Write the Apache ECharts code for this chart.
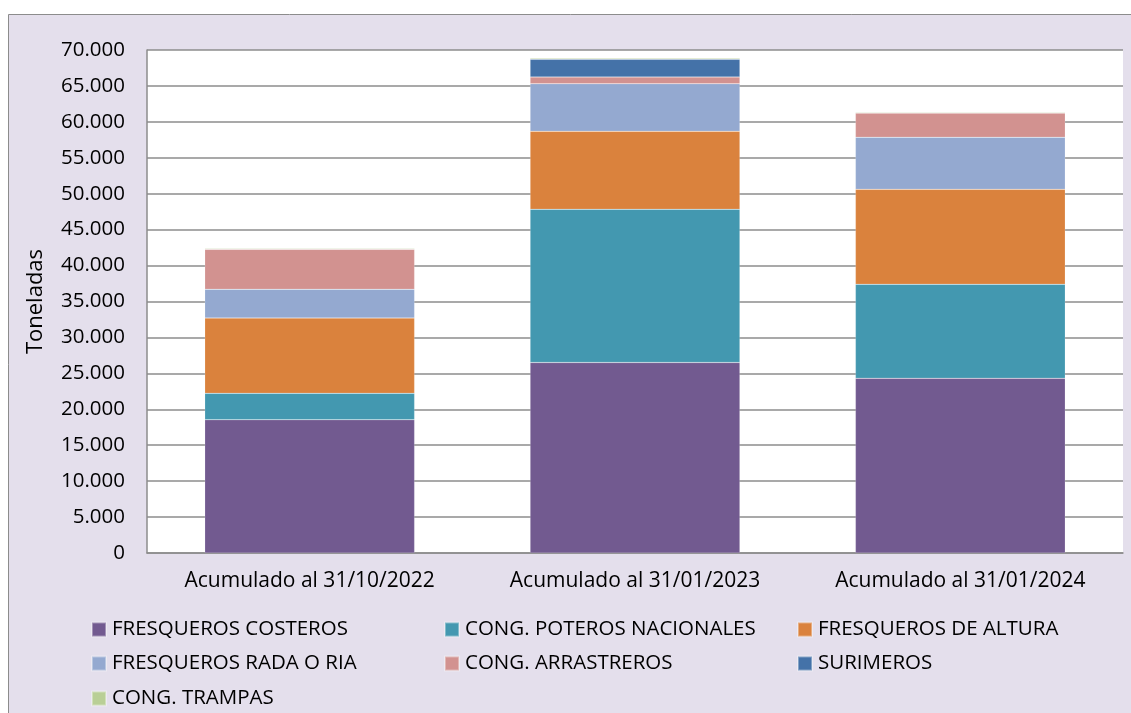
<!DOCTYPE html>
<html><head><meta charset="utf-8">
<script src="https://cdn.jsdelivr.net/npm/echarts@6/dist/echarts.min.js"></script>
<style>html,body{margin:0;padding:0;background:#fff}#c{width:1131px;height:713px}</style>
</head><body><div id="c"></div>
<script>
const categories = ['Acumulado al 31/10/2022','Acumulado al 31/01/2023','Acumulado al 31/01/2024'];
const fresquerosCosteros = [18550, 26510, 24310];
const congPoterosNacionales = [3670, 21320, 13080];
const fresquerosDeAltura = [10480, 10850, 13220];
const fresquerosRadaORia = [4000, 6630, 7240];
const congArrastreros = [5560, 930, 3380];
const surimeros = [0, 2460, 0];
const congTrampas = [120, 140, 100];
const yTicks = [0,5000,10000,15000,20000,25000,30000,35000,40000,45000,50000,55000,60000,65000,70000];

const seriesDefs = [
  ['FRESQUEROS COSTEROS', fresquerosCosteros, '#725A90'],
  ['CONG. POTEROS NACIONALES', congPoterosNacionales, '#4398B0'],
  ['FRESQUEROS DE ALTURA', fresquerosDeAltura, '#DA823D'],
  ['FRESQUEROS RADA O RIA', fresquerosRadaORia, '#94A9D0'],
  ['CONG. ARRASTREROS', congArrastreros, '#D29290'],
  ['SURIMEROS', surimeros, '#4472A8'],
  ['CONG. TRAMPAS', congTrampas, '#B9CF96']
];
// legend placement (column x, row y) for each series, in order
const legendPos = [[91,619],[444,619],[797,619],[91,653],[444,653],[797,653],[91,688]];
const FONT = '"Open Sans", sans-serif';
const chart = echarts.init(document.getElementById('c'), null, {renderer:'canvas'});
function fmt(v){ return v === 0 ? '0' : (v/1000).toFixed(0) + '.000'; }
const legends = seriesDefs.map(function(d, i){
  return {orient:'horizontal', itemWidth:14, itemHeight:14, itemGap:0, icon:'rect',
    left:legendPos[i][0], top:legendPos[i][1], padding:0, selectedMode:false,
    textStyle:{fontFamily:FONT, fontSize:20.5, color:'#000', padding:[0,0,0,1]},
    data:[d[0]]};
});
const option = {
  backgroundColor:'#fff',
  animation:false,
  graphic:[{type:'rect', shape:{x:8.5,y:14.5,width:1140,height:720}, style:{fill:'#E4DFEC', stroke:'#8c8c8c', lineWidth:1}, z:-10}],
  grid:{left:147, top:50, width:976, height:503, show:true, backgroundColor:'#fff', borderWidth:0},
  legend:legends,
  xAxis:{type:'category', data:categories,
    axisLine:{lineStyle:{color:'#8c8c8c', width:1.5}}, axisTick:{show:false},
    axisLabel:{fontFamily:FONT, fontSize:21, color:'#000', margin:18, interval:0, hideOverlap:false}},
  yAxis:{type:'value', min:0, max:70000, interval:5000,
    name:'Toneladas', nameLocation:'middle', nameGap:100, nameRotate:90,
    nameTextStyle:{fontFamily:FONT, fontSize:22, color:'#000'},
    axisLine:{show:true, lineStyle:{color:'#8c8c8c', width:1.5}}, axisTick:{show:false},
    splitLine:{lineStyle:{color:'#8c8c8c', width:1.5}},
    axisLabel:{fontFamily:FONT, fontSize:20.5, color:'#000', margin:22, formatter:function(v){return yTicks.indexOf(v)>=0?fmt(v):'';}}},
  series: seriesDefs.map(function(d){
    return {name:d[0], type:'bar', stack:'total', data:d[1], barCategoryGap:'35.5%',
      itemStyle:{color:d[2], borderColor:'rgba(255,255,255,0.35)', borderWidth:0.5}};
  })
};
chart.setOption(option);
</script></body></html>
